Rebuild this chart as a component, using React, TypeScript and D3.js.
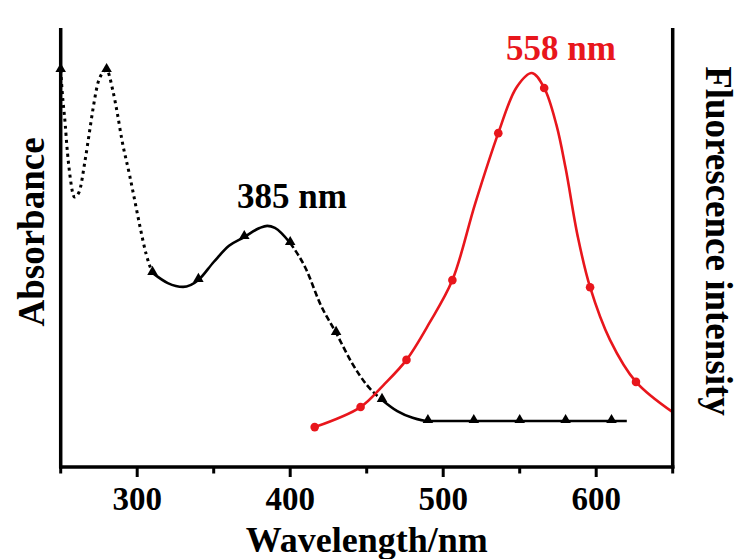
import React from "react";
import * as d3 from "d3";

// Absorbance spectrum (normalised)
const absWl = [250, 251, 253, 254, 256, 259, 262, 266, 269, 271, 275, 280, 284, 287, 290, 295, 299, 302, 306, 310, 320, 330, 340, 350, 360, 370, 380, 385, 390, 400, 410, 420, 430, 440, 450, 460, 470, 480, 490, 520, 550, 580, 610, 620];
const absVal = [1.0, 0.937, 0.843, 0.786, 0.701, 0.638, 0.652, 0.744, 0.829, 0.886, 0.972, 1.0, 0.943, 0.877, 0.801, 0.701, 0.615, 0.55, 0.473, 0.422, 0.393, 0.382, 0.402, 0.453, 0.499, 0.524, 0.55, 0.556, 0.55, 0.507, 0.436, 0.33, 0.251, 0.168, 0.103, 0.06, 0.028, 0.009, 0, 0, 0, 0, 0, 0];
const absMarkers = [250, 280, 310, 340, 370, 400, 430, 460, 490, 520, 550, 580, 610];
// line-style segments of the absorbance curve
const absSegFrom = [250, 310, 400, 460];
const absSegTo = [310, 400, 460, 620];
const absSegStyle = ["dot", "solid", "dash", "solid"];

// Fluorescence spectrum (normalised)
const flWl = [416, 446, 461, 476, 491, 506, 521, 536, 548, 558, 566, 574, 580, 588, 596, 609, 626, 650];
const flVal = [0.099, 0.15, 0.206, 0.27, 0.364, 0.473, 0.669, 0.847, 0.964, 1.0, 0.962, 0.868, 0.758, 0.583, 0.455, 0.321, 0.214, 0.137];
const flMarkers = [416, 446, 476, 506, 536, 566, 596, 626];

const majorTicks = [300, 400, 500, 600];
const minorTicks = [250, 350, 450, 550, 650];

const W = 743;
const H = 559;
const left = 60.7;
const right = 672.7;
const bottom = 467;
const top = 28;
const RED = "#e8161c";
const FONT = "'Liberation Serif', 'Times New Roman', serif";

export default function App() {
  const x = d3.scaleLinear().domain([250, 650]).range([left, right]);
  const yAbs = d3.scaleLinear().domain([0, 1]).range([421, 70]);
  const yFl = d3.scaleLinear().domain([0, 1]).range([466, 73]);

  const absPts: [number, number][] = absWl.map((w, i) => [w, absVal[i]]);
  const flPts: [number, number][] = flWl.map((w, i) => [w, flVal[i]]);

  const absLine = d3
    .line<[number, number]>()
    .x((d) => x(d[0]))
    .y((d) => yAbs(d[1]))
    .curve(d3.curveMonotoneX);
  const flLine = d3
    .line<[number, number]>()
    .x((d) => x(d[0]))
    .y((d) => yFl(d[1]))
    .curve(d3.curveCatmullRom.alpha(0.5));

  const tri = d3.symbol().type(d3.symbolTriangle).size(48)() as string;

  const dashFor = (s: string) => (s === "dot" ? "3 4" : s === "dash" ? "6 3" : undefined);

  const absAt = (w: number) => absVal[absWl.indexOf(w)];
  const flAt = (w: number) => flVal[flWl.indexOf(w)];

  return (
    <svg width={W} height={H} style={{ position: "absolute", left: 0, top: 0, background: "#fff" }}>
      {/* absorbance curve segments */}
      {absSegFrom.map((f, i) => {
        const seg = absPts.filter((p) => p[0] >= f && p[0] <= absSegTo[i]);
        return (
          <path
            key={"seg" + i}
            d={absLine(seg) || ""}
            fill="none"
            stroke="#000"
            strokeWidth={absSegStyle[i] === "dot" ? 3 : 2.6}
            strokeDasharray={dashFor(absSegStyle[i])}
          />
        );
      })}
      {absMarkers.map((w) => (
        <path key={"t" + w} d={tri} transform={`translate(${x(w)},${yAbs(absAt(w)) - 1})`} fill="#000" />
      ))}

      {/* fluorescence curve */}
      <path d={flLine(flPts) || ""} fill="none" stroke={RED} strokeWidth={2.6} />
      {flMarkers.map((w) => (
        <circle key={"c" + w} cx={x(w)} cy={yFl(flAt(w))} r={4.3} fill={RED} />
      ))}

      {/* axes */}
      <line x1={left} y1={top} x2={left} y2={bottom + 1.5} stroke="#000" strokeWidth={3.5} />
      <line x1={right} y1={top} x2={right} y2={bottom + 1.5} stroke="#000" strokeWidth={3.5} />
      <line x1={left - 1.7} y1={bottom} x2={right + 1.7} y2={bottom} stroke="#000" strokeWidth={3.5} />
      {majorTicks.map((t) => (
        <line key={"M" + t} x1={x(t)} x2={x(t)} y1={bottom} y2={bottom + 10} stroke="#000" strokeWidth={3} />
      ))}
      {minorTicks.map((t) => (
        <line key={"m" + t} x1={x(t)} x2={x(t)} y1={bottom} y2={bottom + 6.5} stroke="#000" strokeWidth={3} />
      ))}
      {majorTicks.map((t) => (
        <text
          key={"l" + t}
          x={x(t)}
          y={510}
          textAnchor="middle"
          fontFamily={FONT}
          fontWeight="bold"
          fontSize={33}
          fill="#000"
        >
          {t}
        </text>
      ))}

      {/* titles */}
      <text x={(left + right) / 2} y={552} textAnchor="middle" fontFamily={FONT} fontWeight="bold" fontSize={36} fill="#000">
        Wavelength/nm
      </text>
      <text
        transform={`translate(44,232) rotate(-90)`}
        textAnchor="middle"
        fontFamily={FONT}
        fontWeight="bold"
        fontSize={37}
        fill="#000"
      >
        Absorbance
      </text>
      <text
        transform={`translate(706,241) rotate(90)`}
        textAnchor="middle"
        fontFamily={FONT}
        fontWeight="bold"
        fontSize={37}
        fill="#000"
      >
        Fluorescence intensity
      </text>

      {/* peak annotations */}
      <text x={292} y={208} textAnchor="middle" fontFamily={FONT} fontWeight="bold" fontSize={35} fill="#000">
        385 nm
      </text>
      <text x={561} y={60} textAnchor="middle" fontFamily={FONT} fontWeight="bold" fontSize={35} fill={RED}>
        558 nm
      </text>
    </svg>
  );
}
